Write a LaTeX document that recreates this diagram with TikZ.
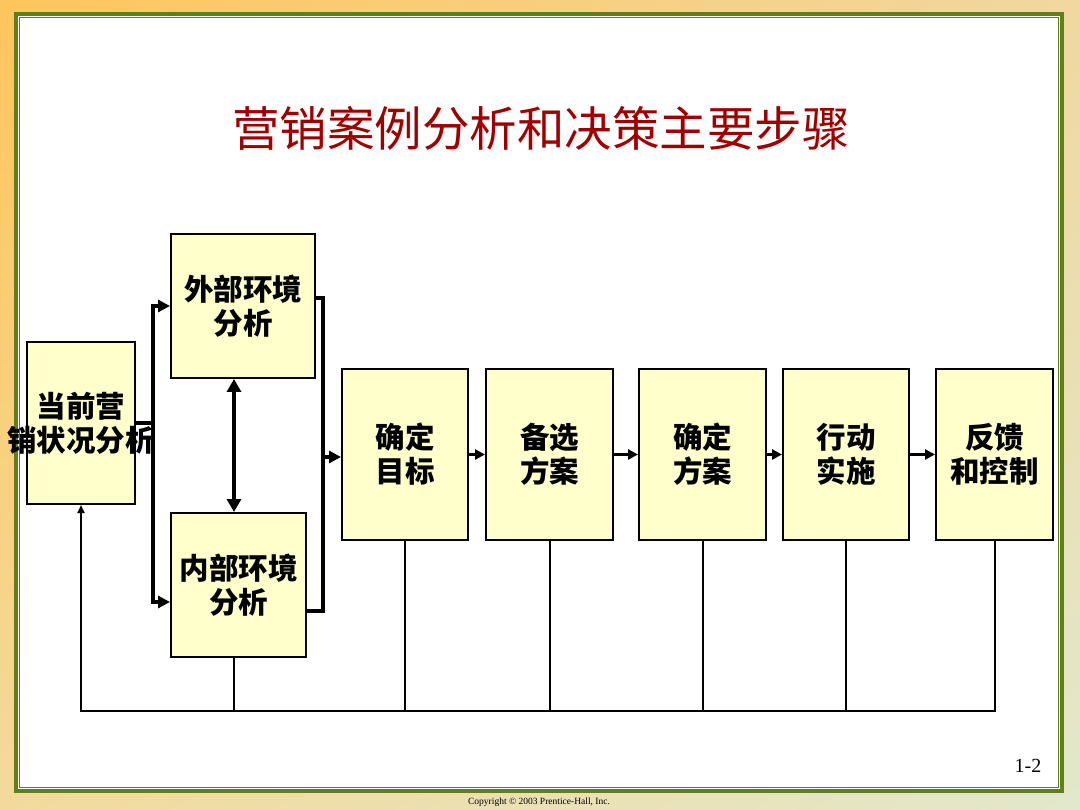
\documentclass[tikz,border=0pt]{standalone}
\usepackage{fontspec}
\setmainfont{Liberation Serif}
\newfontfamily\cjk{Noto Sans CJK SC}
\usetikzlibrary{arrows.meta,shadings}
\definecolor{titlered}{HTML}{A00000}
\definecolor{boxfill}{HTML}{FFFFCC}
\definecolor{frameg}{HTML}{5E7F1C}
\definecolor{bgul}{HTML}{FFC55C}
\definecolor{bgur}{HTML}{F0D8A0}
\definecolor{bgll}{HTML}{F3DA9C}
\definecolor{bglr}{HTML}{E2E8CC}

\begin{document}
\begin{tikzpicture}[x=1pt,y=-1pt,
  stepbox/.style={draw=black,line width=2pt,fill=boxfill,inner sep=0pt,
    align=center,font=\cjk\bfseries\fontsize{29.5}{34}\selectfont},
  bus/.style={line width=4pt},
  bighead/.style={-{Triangle[length=12pt,width=12pt]}},
  flow/.style={line width=3pt,-{Triangle[length=10pt,width=10pt]}},
  fbline/.style={line width=2pt}]
  \useasboundingbox (0,0) rectangle (1080,810);
  % Background and frame
  \shade[upper left=bgul,upper right=bgur,lower left=bgll,lower right=bglr]
    (0,0) rectangle (1080,810);
  \fill[white] (16,14) rectangle (1062,791);
  \draw[frameg,line width=4pt] (16,14) rectangle (1062,791);
  \draw[frameg,line width=1pt] (19.5,17.5) rectangle (1058.5,787.5);
  % Title
  \node[font=\cjk\fontsize{47.5}{47.5}\selectfont,titlered] (title) at (541,128)
    {营销案例分析和决策主要步骤};
  % Boxes
  \node[stepbox,minimum width=108,minimum height=162] (A) at (81,423)
    {当前营\\\makebox[0pt]{销状况分析}};
  \node[stepbox,minimum width=144,minimum height=144] (B) at (243,306)
    {外部环境\\分析};
  \node[stepbox,minimum width=135,minimum height=144] (C) at (238.5,585)
    {内部环境\\分析};
  \node[stepbox,minimum width=126,minimum height=171] (D) at (405,454.5)
    {确定\\目标};
  \node[stepbox,minimum width=127,minimum height=171] (E) at (549.5,454.5)
    {备选\\方案};
  \node[stepbox,minimum width=127,minimum height=171] (F) at (702.5,454.5)
    {确定\\方案};
  \node[stepbox,minimum width=126,minimum height=171] (G) at (846,454.5)
    {行动\\实施};
  \node[stepbox,minimum width=117,minimum height=171] (H) at (994.5,454.5)
    {反馈\\和控制};
  % Left bracket
  \coordinate (lsplit) at (153,423);
  \draw[bus] (A.east) -- (lsplit);
  \draw[bus,bighead] (lsplit) |- (B.west);
  \draw[bus,bighead] (lsplit) |- (C.west |- 0,602);
  % Between the two analyses
  \draw[bus,{Triangle[length=13pt,width=14pt]}-{Triangle[length=13pt,width=14pt]}]
    (B.south -| 234,0) -- (C.north -| 234,0);
  % Right bracket
  \coordinate (rjoin) at (323,457);
  \draw[bus] (B.east |- 0,298) -| (rjoin);
  \draw[bus] (C.east |- 0,611) -| (rjoin);
  \draw[bus,bighead] (rjoin) -- (D.west |- rjoin);
  % Main chain
  \draw[flow] (D) -- (E);
  \draw[flow] (E) -- (F);
  \draw[flow] (F) -- (G);
  \draw[flow] (G) -- (H);
  % Feedback
  \coordinate (fbl) at (81,711);
  \draw[fbline,-{Triangle[length=8pt,width=7pt]}] (H.south) |- (fbl) -- (A.south);
  \foreach \n in {D,E,F,G}
    \draw[fbline] (\n.south) -- (\n.south |- fbl);
  \draw[fbline] (C.south -| 234,0) -- (fbl -| 234,0);
  % Footer
  \node[font=\fontsize{20}{20}\selectfont] (pageno) at (1028,766) {1-2};
  \node[font=\fontsize{9.5}{9.5}\selectfont] (copy) at (539,802)
    {Copyright \textcopyright\ 2003 Prentice-Hall, Inc.};
\end{tikzpicture}
\end{document}
